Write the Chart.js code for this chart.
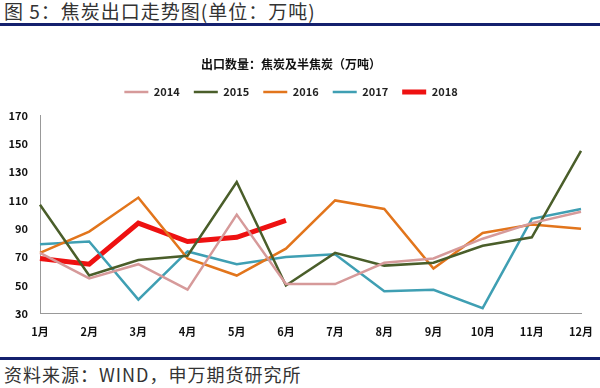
<!DOCTYPE html>
<html>
<head>
<meta charset="utf-8">
<script src="https://cdn.jsdelivr.net/npm/chart.js@4"></script>
<style>
  body { margin: 0; width: 600px; height: 388px; background: #fff; overflow: hidden; position: relative; font-family: "Noto Sans CJK SC", sans-serif; }
  .head { position: absolute; left: 4px; top: -3px; font-size: 19px; color: #333; letter-spacing: 1px; }
  .rule { position: absolute; left: 0; width: 600px; height: 3px; background: #14206e; }
  .foot { position: absolute; left: 4px; top: 361px; font-size: 18px; color: #333; letter-spacing: 1px; }
  #wrap { position: absolute; left: 0; top: 30px; width: 600px; height: 325px; }
</style>
</head>
<body>
<div class="head">图 5：焦炭出口走势图(单位：万吨)</div>
<div class="rule" style="top:23px"></div>
<div id="wrap"><canvas id="c"></canvas></div>
<div class="rule" style="top:357px"></div>
<div class="foot">资料来源：WIND，申万期货研究所</div>
<script>
const months = ['1月', '2月', '3月', '4月', '5月', '6月', '7月', '8月', '9月', '10月', '11月', '12月'];
const y2014 = [73, 55, 65, 47, 100, 51, 51, 66, 69, 83, 94, 102];
const y2015 = [107, 57, 68, 71, 123, 50, 73, 64, 66, 78, 84, 145];
const y2016 = [73, 88, 112, 69, 57, 76, 110, 104, 62, 87, 93, 90];
const y2017 = [79, 81, 40, 74, 65, 70, 72, 46, 47, 34, 97, 104];
const y2018 = [69, 65, 94, 81, 84, 96, null, null, null, null, null, null];

const line = (label, data, color, width) => ({
  label, data, borderColor: color, backgroundColor: color,
  borderWidth: width, pointRadius: 0, tension: 0, spanGaps: false
});

// extra room under the legend
const legendGap = {
  id: 'legendGap',
  beforeInit(chart) {
    const fit = chart.legend.fit;
    chart.legend.fit = function () {
      fit.bind(chart.legend)();
      this.height += 8;
    };
  }
};

new Chart(document.getElementById('c'), {
  type: 'line',
  data: {
    labels: months,
    datasets: [
      line('2014', y2014, '#d69a9a', 2.5),
      line('2015', y2015, '#4a5e2a', 2.5),
      line('2016', y2016, '#e2751c', 2.5),
      line('2017', y2017, '#3f9fb3', 2.5),
      line('2018', y2018, '#ee1111', 5)
    ]
  },
  options: {
    responsive: true,
    maintainAspectRatio: false,
    animation: false,
    layout: { padding: { left: 0, right: 18, top: 27, bottom: 10 } },
    plugins: {
      title: {
        display: true,
        text: '出口数量：焦炭及半焦炭（万吨）',
        color: '#111',
        font: { size: 12, weight: 'bold', family: 'Noto Sans CJK SC' },
        padding: { top: 0, bottom: 1 }
      },
      legend: {
        labels: {
          boxWidth: 24, boxHeight: 0, color: '#222', padding: 14,
          font: { size: 11, weight: 'bold', family: 'Noto Sans CJK SC' }
        }
      },
      tooltip: { enabled: false }
    },
    scales: {
      x: {
        offset: false,
        grid: { display: false, drawTicks: true, tickLength: 4, color: '#888' },
        border: { color: '#999', width: 1 },
        ticks: { color: '#111', font: { size: 11, weight: 'bold', family: 'Noto Sans CJK SC' }, padding: 7, maxRotation: 0 }
      },
      y: {
        min: 30, max: 170,
        afterFit: s => { s.width = 40; },
        grid: { display: false, drawTicks: true, tickLength: 4, color: '#888' },
        border: { color: '#999', width: 1 },
        ticks: { stepSize: 20, color: '#111', font: { size: 11, weight: 'bold', family: 'Noto Sans CJK SC' }, padding: 8 }
      }
    }
  },
  plugins: [legendGap]
});
</script>
</body>
</html>
